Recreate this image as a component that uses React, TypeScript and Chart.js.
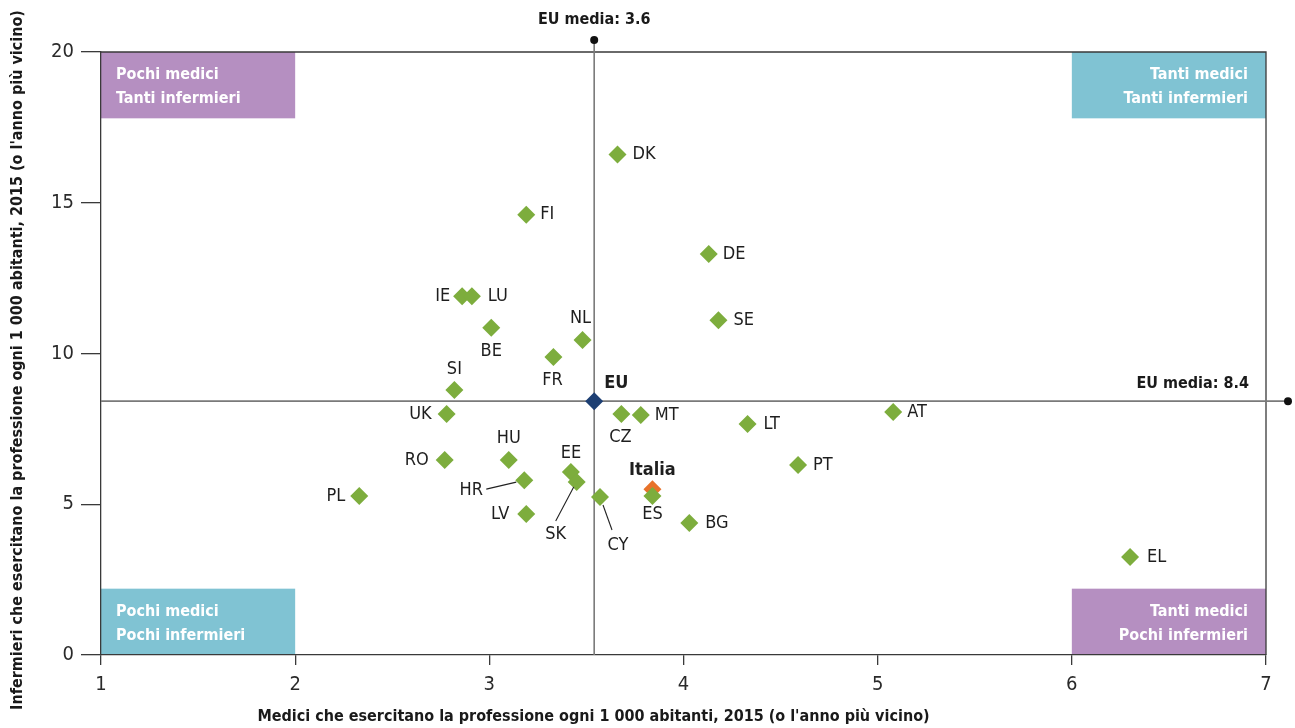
import React, { useEffect, useRef } from "react";
import { Chart, registerables } from "chart.js";

Chart.register(...registerables);

// ---- data ----
const countries = ["DK", "FI", "DE", "SE", "IE", "LU", "BE", "NL", "FR", "SI", "UK", "CZ", "MT", "AT", "LT", "HU", "RO", "PT", "EE", "HR", "SK", "ES", "PL", "CY", "LV", "BG", "EL"];
const doctors = [3.66, 3.19, 4.13, 4.18, 2.86, 2.91, 3.01, 3.48, 3.33, 2.82, 2.78, 3.68, 3.78, 5.08, 4.33, 3.10, 2.77, 4.59, 3.42, 3.18, 3.45, 3.84, 2.33, 3.57, 3.19, 4.03, 6.30];
const nurses = [16.6, 14.6, 13.3, 11.1, 11.9, 11.9, 10.85, 10.45, 9.88, 8.79, 7.99, 7.99, 7.96, 8.06, 7.66, 6.47, 6.47, 6.3, 6.07, 5.8, 5.74, 5.27, 5.27, 5.24, 4.68, 4.38, 3.25];
const euLabel = ["EU"];
const euDoctors = [3.54];
const euNurses = [8.42];
const itLabel = ["Italia"];
const itDoctors = [3.84];
const itNurses = [5.5];
const euMeanDoctorsText = "EU media: 3.6";
const euMeanNursesText = "EU media: 8.4";
const xTicks = [1, 2, 3, 4, 5, 6, 7];
const yTicks = [0, 5, 10, 15, 20];
const quadrantLines = [
  ["Pochi medici", "Tanti infermieri"],
  ["Tanti medici", "Tanti infermieri"],
  ["Pochi medici", "Pochi infermieri"],
  ["Tanti medici", "Pochi infermieri"],
];
// box extents in data units
const quadrantX0 = [1, 6, 1, 6];
const quadrantX1 = [2, 7, 2, 7];
const quadrantY0 = [17.8, 17.8, 0, 0];
const quadrantY1 = [20, 20, 2.2, 2.2];
const xTitle = "Medici che esercitano la professione ogni 1 000 abitanti, 2015 (o l'anno più vicino)";
const yTitle = "Infermieri che esercitano la professione ogni 1 000 abitanti, 2015 (o l'anno più vicino)";

// ---- styling ----
const FONT = "'DejaVu Sans Condensed', 'Liberation Sans Narrow', sans-serif";
const GREEN = "#7dad3d";
const NAVY = "#1d3f73";
const ORANGE = "#e8722a";
const PURPLE = "#b58fc1";
const TEAL = "#80c3d3";
const quadrantColors = [PURPLE, TEAL, TEAL, PURPLE];
const quadrantAlign = ["left", "right", "left", "right"];

type Place = { dx: number; dy: number; align: CanvasTextAlign; lead?: [number, number, number, number] };
const place: Record<string, Place> = {
  DK: { dx: 15, dy: 0, align: "left" },
  FI: { dx: 14, dy: 0, align: "left" },
  DE: { dx: 14, dy: 0, align: "left" },
  SE: { dx: 15, dy: 0, align: "left" },
  IE: { dx: -12, dy: 0, align: "right" },
  LU: { dx: 16, dy: 0, align: "left" },
  BE: { dx: 0, dy: 23, align: "center" },
  NL: { dx: -2, dy: -22, align: "center" },
  FR: { dx: -1, dy: 23, align: "center" },
  SI: { dx: 0, dy: -21, align: "center" },
  UK: { dx: -15, dy: 0, align: "right" },
  CZ: { dx: -1, dy: 23, align: "center" },
  MT: { dx: 14, dy: 0, align: "left" },
  AT: { dx: 14, dy: 0, align: "left" },
  LT: { dx: 16, dy: 0, align: "left" },
  HU: { dx: 0, dy: -22, align: "center" },
  RO: { dx: -16, dy: 0, align: "right" },
  PT: { dx: 15, dy: 0, align: "left" },
  EE: { dx: 0, dy: -19, align: "center" },
  HR: { dx: -53, dy: 10, align: "center", lead: [-38, 9, -8, 2] },
  SK: { dx: -21, dy: 52, align: "center", lead: [-21, 39, -3, 5] },
  ES: { dx: 0, dy: 18, align: "center" },
  PL: { dx: -14, dy: 0, align: "right" },
  CY: { dx: 18, dy: 48, align: "center", lead: [12, 33, 3, 8] },
  LV: { dx: -17, dy: 0, align: "right" },
  BG: { dx: 16, dy: 0, align: "left" },
  EL: { dx: 17, dy: 0, align: "left" },
  EU: { dx: 10, dy: -18, align: "left" },
  Italia: { dx: 0, dy: -19, align: "center" },
};

const decorPlugin = {
  id: "decor",
  beforeDraw(chart: any) {
    const { ctx, scales } = chart;
    const x = scales.x, y = scales.y;
    ctx.save();
    for (let i = 0; i < quadrantLines.length; i++) {
      const x0 = x.getPixelForValue(quadrantX0[i]);
      const x1 = x.getPixelForValue(quadrantX1[i]);
      const y0 = y.getPixelForValue(quadrantY1[i]);
      const y1 = y.getPixelForValue(quadrantY0[i]);
      ctx.fillStyle = quadrantColors[i];
      ctx.fillRect(x0, y0, x1 - x0, y1 - y0);
      ctx.fillStyle = "#ffffff";
      ctx.font = `bold 16px ${FONT}`;
      ctx.textBaseline = "middle";
      const al = quadrantAlign[i];
      ctx.textAlign = al as CanvasTextAlign;
      const tx = al === "left" ? x0 + 15 : x1 - 18;
      ctx.fillText(quadrantLines[i][0], tx, y0 + 23);
      ctx.fillText(quadrantLines[i][1], tx, y0 + 47);
    }
    ctx.restore();
  },
  beforeDatasetsDraw(chart: any) {
    const { ctx, scales, chartArea } = chart;
    const x = scales.x, y = scales.y;
    ctx.save();
    ctx.strokeStyle = "#3a3a3a";
    ctx.lineWidth = 1.3;
    ctx.beginPath();
    ctx.moveTo(chartArea.left, chartArea.top);
    ctx.lineTo(chartArea.right, chartArea.top);
    ctx.lineTo(chartArea.right, chartArea.bottom);
    ctx.stroke();
    const ex = x.getPixelForValue(euDoctors[0]);
    const ey = y.getPixelForValue(euNurses[0]);
    ctx.strokeStyle = "#7a7a7a";
    ctx.lineWidth = 1.6;
    ctx.beginPath();
    ctx.moveTo(ex, chartArea.bottom);
    ctx.lineTo(ex, chartArea.top - 12);
    ctx.moveTo(chartArea.left, ey);
    ctx.lineTo(chartArea.right + 22, ey);
    ctx.stroke();
    ctx.fillStyle = "#111";
    ctx.beginPath();
    ctx.arc(ex, chartArea.top - 12, 4, 0, Math.PI * 2);
    ctx.fill();
    ctx.beginPath();
    ctx.arc(chartArea.right + 22, ey, 4, 0, Math.PI * 2);
    ctx.fill();
    ctx.font = `bold 16px ${FONT}`;
    ctx.textBaseline = "middle";
    ctx.textAlign = "center";
    ctx.fillStyle = "#1a1a1a";
    ctx.fillText(euMeanDoctorsText, ex, chartArea.top - 32);
    ctx.textAlign = "right";
    ctx.fillText(euMeanNursesText, chartArea.right - 17, ey - 17);
    ctx.restore();
  },
  afterDatasetsDraw(chart: any) {
    const { ctx, scales } = chart;
    const x = scales.x, y = scales.y;
    ctx.save();
    ctx.textBaseline = "middle";
    const draw = (name: string, vx: number, vy: number, bold: boolean) => {
      const p = place[name];
      if (!p) return;
      const px = x.getPixelForValue(vx);
      const py = y.getPixelForValue(vy);
      ctx.font = `${bold ? "bold 18px" : "18px"} ${FONT}`;
      ctx.fillStyle = "#1e1e1e";
      ctx.textAlign = p.align;
      ctx.fillText(name, px + p.dx, py + p.dy);
      if (p.lead) {
        ctx.strokeStyle = "#222";
        ctx.lineWidth = 1.1;
        ctx.beginPath();
        ctx.moveTo(px + p.lead[0], py + p.lead[1]);
        ctx.lineTo(px + p.lead[2], py + p.lead[3]);
        ctx.stroke();
      }
    };
    countries.forEach((c, i) => draw(c, doctors[i], nurses[i], false));
    draw(euLabel[0], euDoctors[0], euNurses[0], true);
    draw(itLabel[0], itDoctors[0], itNurses[0], true);
    const ca = chart.chartArea;
    ctx.fillStyle = "#1a1a1a";
    ctx.font = `bold 16px ${FONT}`;
    ctx.textAlign = "center";
    ctx.fillText(xTitle, (ca.left + ca.right) / 2 - 90, 717);
    ctx.translate(18, 360);
    ctx.rotate(-Math.PI / 2);
    ctx.fillText(yTitle, 0, 0);
    ctx.restore();
  },
};

export default function App() {
  const ref = useRef<HTMLCanvasElement>(null);
  useEffect(() => {
    document.body.style.margin = "0";
    const canvas = ref.current!;
    const chart = new Chart(canvas, {
      type: "scatter",
      data: {
        datasets: [
          {
            label: "countries",
            data: countries.map((_, i) => ({ x: doctors[i], y: nurses[i] })),
            backgroundColor: GREEN,
            borderColor: GREEN,
            pointStyle: "rectRot",
            pointRadius: 9,
            borderWidth: 0,
          },
          {
            label: "EU",
            data: euDoctors.map((d, i) => ({ x: d, y: euNurses[i] })),
            backgroundColor: NAVY,
            borderColor: NAVY,
            pointStyle: "rectRot",
            pointRadius: 9,
            borderWidth: 0,
          },
          {
            label: "Italia",
            data: itDoctors.map((d, i) => ({ x: d, y: itNurses[i] })),
            backgroundColor: ORANGE,
            borderColor: ORANGE,
            pointStyle: "rectRot",
            pointRadius: 9,
            borderWidth: 0,
          },
        ],
      },
      options: {
        animation: false,
        responsive: false,
        devicePixelRatio: 1,
        layout: { padding: { top: 52, right: 29, left: 0, bottom: 0 } },
        plugins: { legend: { display: false }, tooltip: { enabled: false } },
        scales: {
          x: {
            type: "linear",
            min: 1,
            max: 7,
            afterBuildTicks: (s: any) => { s.ticks = xTicks.map((v) => ({ value: v })); },
            afterFit: (s: any) => { s.height = 73; },
            grid: { drawOnChartArea: false, drawTicks: true, tickLength: 10, color: "#3a3a3a", lineWidth: 1.3 },
            border: { display: true, color: "#3a3a3a", width: 1.3 },
            ticks: { padding: 8, color: "#2a2a2a", font: { family: FONT, size: 20 } },
          },
          y: {
            type: "linear",
            min: 0,
            max: 20,
            afterBuildTicks: (s: any) => { s.ticks = yTicks.map((v) => ({ value: v })); },
            afterFit: (s: any) => { s.width = 101; },
            grid: { drawOnChartArea: false, drawTicks: true, tickLength: 20, color: "#3a3a3a", lineWidth: 1.3 },
            border: { display: true, color: "#3a3a3a", width: 1.3 },
            ticks: { padding: 7, color: "#2a2a2a", font: { family: FONT, size: 20 } },
          },
        },
      },
      plugins: [decorPlugin],
    });
    return () => chart.destroy();
  }, []);
  return (
    <div style={{ width: 1295, height: 728, position: "relative" }}>
      <canvas ref={ref} width={1295} height={728} style={{ display: "block" }} />
    </div>
  );
}
